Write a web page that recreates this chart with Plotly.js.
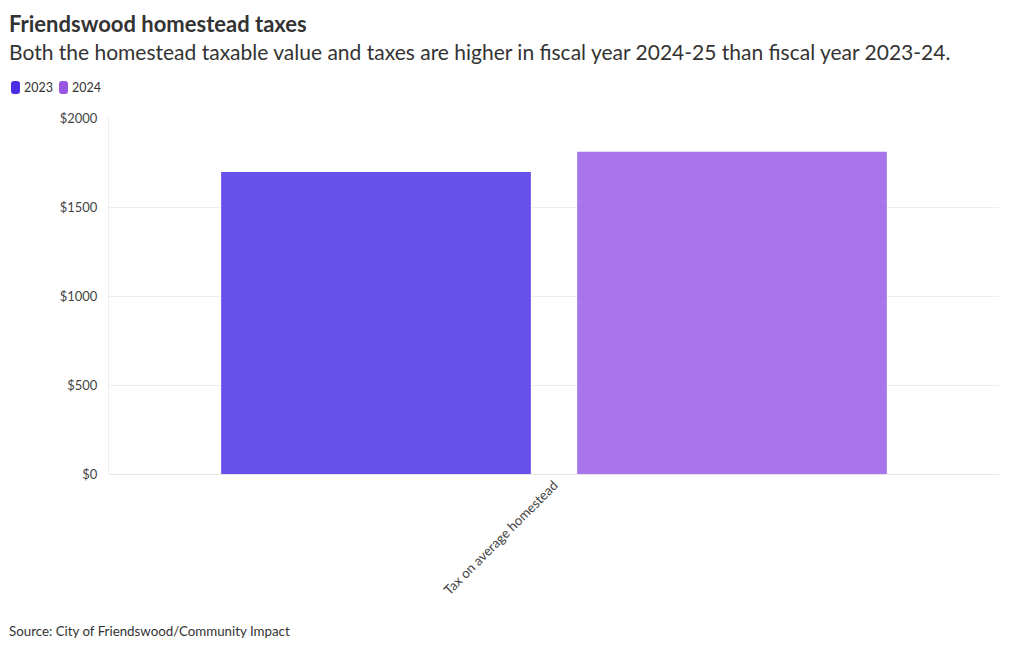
<!DOCTYPE html>
<html>
<head>
<meta charset="utf-8">
<script src="https://cdn.plot.ly/plotly-3.0.1.min.js"></script>
<style>html,body{margin:0;padding:0;background:#fff;}#chart{width:1020px;height:650px;}</style>
</head>
<body>
<div id="chart"></div>
<script>
const categories = ["Tax on average homestead"];
const seriesNames = ["2023", "2024"];
const values2023 = [1697];
const values2024 = [1811];
const colors = ["rgba(75,51,230,0.85)", "rgba(153,94,230,0.85)"];
const legendColors = ["#4a2ee3", "#9856e3"];
const yTickVals = [0, 500, 1000, 1500, 2000];
const yTickText = ["$0", "$500", "$1000", "$1500", "$2000"];

const font = "Lato, 'Source Sans Pro', 'Noto Sans', sans-serif";

// plot area geometry (for placing text outside the plot in paper units)
const L = 109, R = 999, T = 118, B = 474;
const px = v => (v - L) / (R - L);
const py = v => (B - v) / (B - T);

const traces = [values2023, values2024].map((vals, i) => ({
  type: "bar",
  name: seriesNames[i],
  x: categories,
  y: vals,
  marker: {color: colors[i], line: {width: 0}},
  hoverinfo: "y+name",
  showlegend: false
}));

function roundRect(x0, y0, x1, y1, r) {
  const X = v => px(v), Y = v => py(v);
  return `M ${X(x0 + r)} ${Y(y0)} L ${X(x1 - r)} ${Y(y0)} Q ${X(x1)} ${Y(y0)} ${X(x1)} ${Y(y0 + r)} ` +
         `L ${X(x1)} ${Y(y1 - r)} Q ${X(x1)} ${Y(y1)} ${X(x1 - r)} ${Y(y1)} L ${X(x0 + r)} ${Y(y1)} ` +
         `Q ${X(x0)} ${Y(y1)} ${X(x0)} ${Y(y1 - r)} L ${X(x0)} ${Y(y0 + r)} Q ${X(x0)} ${Y(y0)} ${X(x0 + r)} ${Y(y0)} Z`;
}

const legendX = [11, 59];
const shapes = seriesNames.map((n, i) => ({
  type: "path", xref: "paper", yref: "paper",
  path: roundRect(legendX[i], 81, legendX[i] + 9, 94, 3),
  fillcolor: legendColors[i], line: {width: 0}
}));
const legendAnns = seriesNames.map((n, i) => ({
  xref: "paper", yref: "paper", x: px(legendX[i] + 13), y: py(87.5), xanchor: "left", yanchor: "middle",
  xshift: -2, text: n, showarrow: false, font: {size: 12.5, color: "#333", family: font}
}));

const layout = {
  width: 1020, height: 650,
  margin: {l: L, r: 1020 - R, t: T, b: 650 - B},
  paper_bgcolor: "#fff", plot_bgcolor: "#fff",
  font: {family: font, color: "#444", size: 12},
  barmode: "group",
  bargap: 0.2,
  bargroupgap: 0.13,
  showlegend: false,
  xaxis: {type: "category", tickangle: -45, showgrid: false, zeroline: false, showline: false,
          ticks: "", tickfont: {size: 13.3, color: "#444"}, fixedrange: true},
  yaxis: {range: [0, 2000], tickvals: yTickVals, ticktext: yTickText, showgrid: true,
          gridcolor: "#eeeeee", gridwidth: 1, zeroline: true, zerolinecolor: "#e6e6e6",
          showline: true, linecolor: "#eeeeee", linewidth: 1, ticks: "", ticklen: 0,
          ticklabelstandoff: 8,
          tickfont: {size: 13, color: "#444"}, fixedrange: true},
  shapes: shapes,
  annotations: [
    {xref: "paper", yref: "paper", x: px(10), y: py(24), xanchor: "left", yanchor: "middle", xshift: -3,
     text: "<b>Friendswood homestead taxes</b>", showarrow: false,
     font: {size: 22, color: "#333", family: font}},
    {xref: "paper", yref: "paper", x: px(10), y: py(51), xanchor: "left", yanchor: "middle", xshift: -3,
     text: "Both the homestead taxable value and taxes are higher in fiscal year 2024-25 than fiscal year 2023-24.",
     showarrow: false, font: {size: 21, color: "#333", family: font}},
    {xref: "paper", yref: "paper", x: px(10), y: py(631), xanchor: "left", yanchor: "middle", xshift: -3,
     text: "Source: City of Friendswood/Community Impact", showarrow: false,
     font: {size: 13.3, color: "#333", family: font}}
  ].concat(legendAnns)
};

Plotly.newPlot("chart", traces, layout, {displayModeBar: false});
</script>
</body>
</html>
